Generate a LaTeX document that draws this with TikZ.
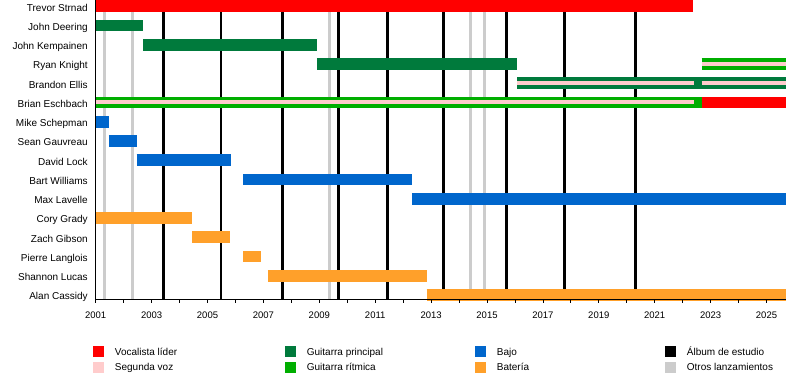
\documentclass[tikz,border=0pt]{standalone}
\usepackage{fontspec}
\setmainfont{Liberation Sans}
\usetikzlibrary{positioning}
\definecolor{vocal}{HTML}{FF0000}
\definecolor{backvoc}{HTML}{FFCCCC}
\definecolor{leadgtr}{HTML}{007A3C}
\definecolor{rhythmgtr}{HTML}{00AE00}
\definecolor{bass}{HTML}{0066CC}
\definecolor{drums}{HTML}{FFA02A}
\definecolor{otherrel}{HTML}{CCCCCC}
\begin{document}
\begin{tikzpicture}[x=1pt,y=-1pt,every node/.style={font=\fontsize{10}{12}\selectfont},
  bar/.style={line width=11.7pt},
  voxline/.style={line width=4pt,backvoc},
  album/.style={line width=2.7pt,black},
  release/.style={line width=2.7pt,otherrel},
  member/.style={anchor=east,inner sep=0pt,text height=7.2pt,text depth=0pt,yshift=-1.4pt},
  yearlbl/.style={inner sep=0pt,text height=6.8pt,text depth=0pt,font=\fontsize{9.5}{11}\selectfont},
  legsq/.style={minimum width=11pt,minimum height=11pt,inner sep=0pt},
  legtxt/.style={inner sep=0pt,text height=7.2pt,text depth=0pt,font=\fontsize{10}{12}\selectfont}]
  \useasboundingbox (0,0) rectangle (800,380);
  % chart: x in years since 2001, y in rows
  \begin{scope}[shift={(95.7,6.2)},x=27.95pt,y=-19.25pt]
    % releases
    \foreach \t in {0.31,1.32,8.36,13.40,13.90}
      \draw[release] (\t,-0.322) -- (\t,15.26);
    \foreach \t in {2.42,4.48,6.69,8.68,10.43,12.44,14.69,16.77,19.31}
      \draw[album] (\t,-0.322) -- (\t,15.26);
    % members
    \node[member] (strnad) at (-0.28,0) {Trevor Strnad};
    \node[member] (deering) at (-0.28,1) {John Deering};
    \node[member] (kempainen) at (-0.28,2) {John Kempainen};
    \node[member] (knight) at (-0.28,3) {Ryan Knight};
    \node[member] (ellis) at (-0.28,4) {Brandon Ellis};
    \node[member] (eschbach) at (-0.28,5) {Brian Eschbach};
    \node[member] (schepman) at (-0.28,6) {Mike Schepman};
    \node[member] (gauvreau) at (-0.28,7) {Sean Gauvreau};
    \node[member] (lock) at (-0.28,8) {David Lock};
    \node[member] (williams) at (-0.28,9) {Bart Williams};
    \node[member] (lavelle) at (-0.28,10) {Max Lavelle};
    \node[member] (grady) at (-0.28,11) {Cory Grady};
    \node[member] (gibson) at (-0.28,12) {Zach Gibson};
    \node[member] (langlois) at (-0.28,13) {Pierre Langlois};
    \node[member] (lucas) at (-0.28,14) {Shannon Lucas};
    \node[member] (cassidy) at (-0.28,15) {Alan Cassidy};
    % bars
    \draw[bar,vocal] (0,0) -- (21.36,0);
    \draw[bar,leadgtr] (0,1) -- (1.71,1);
    \draw[bar,leadgtr] (1.71,2) -- (7.91,2);
    \draw[bar,leadgtr] (7.91,3) -- (15.09,3);
    \draw[bar,rhythmgtr] (21.68,3) -- (24.68,3);
    \draw[voxline] (21.68,3) -- (24.68,3);
    \draw[bar,leadgtr] (15.09,4) -- (24.68,4);
    \draw[voxline] (15.09,4) -- (21.42,4);
    \draw[voxline] (21.68,4) -- (24.68,4);
    \draw[bar,rhythmgtr] (0,5) -- (21.68,5);
    \draw[voxline] (0,5) -- (21.42,5);
    \draw[bar,vocal] (21.68,5) -- (24.68,5);
    \draw[bar,bass] (0,6) -- (0.48,6);
    \draw[bar,bass] (0.47,7) -- (1.46,7);
    \draw[bar,bass] (1.46,8) -- (4.83,8);
    \draw[bar,bass] (5.27,9) -- (11.32,9);
    \draw[bar,bass] (11.31,10) -- (24.68,10);
    \draw[bar,drums] (0,11) -- (3.46,11);
    \draw[bar,drums] (3.46,12) -- (4.8,12);
    \draw[bar,drums] (5.27,13) -- (5.9,13);
    \draw[bar,drums] (6.16,14) -- (11.84,14);
    \draw[bar,drums] (11.84,15) -- (24.68,15);
    % axes
    \draw[line width=1pt] (0,-0.322) -- (0,15.26) -- (24.68,15.26);
    \foreach \t in {0,...,24}
      \draw[line width=0.8pt] (\t,15.26) -- ++(0,0.17);
    \foreach \t [evaluate=\t as \yr using int(2001+\t)] in {0,2,...,24}
      \node[yearlbl] (yr\t) at (\t,16.04) {\yr};
  \end{scope}
  % legend
  \node[legsq,fill=vocal] (vocsq) at (98.5,351.5) {};
  \node[legtxt,right=10.5pt of vocsq] (voctxt) {Vocalista líder};
  \node[legsq,fill=backvoc] (bvsq) at (98.5,367) {};
  \node[legtxt,right=10.5pt of bvsq] (bvtxt) {Segunda voz};
  \node[legsq,fill=leadgtr] (leadsq) at (290.5,351.5) {};
  \node[legtxt,right=10.5pt of leadsq] (leadtxt) {Guitarra principal};
  \node[legsq,fill=rhythmgtr] (rhysq) at (290.5,367) {};
  \node[legtxt,right=10.5pt of rhysq] (rhytxt) {Guitarra rítmica};
  \node[legsq,fill=bass] (basssq) at (480.5,351.5) {};
  \node[legtxt,right=10.5pt of basssq] (basstxt) {Bajo};
  \node[legsq,fill=drums] (drumsq) at (480.5,367) {};
  \node[legtxt,right=10.5pt of drumsq] (drumtxt) {Batería};
  \node[legsq,fill=black] (albsq) at (670.5,351.5) {};
  \node[legtxt,right=10.5pt of albsq] (albtxt) {Álbum de estudio};
  \node[legsq,fill=otherrel] (relsq) at (670.5,367) {};
  \node[legtxt,right=10.5pt of relsq] (reltxt) {Otros lanzamientos};
\end{tikzpicture}
\end{document}
